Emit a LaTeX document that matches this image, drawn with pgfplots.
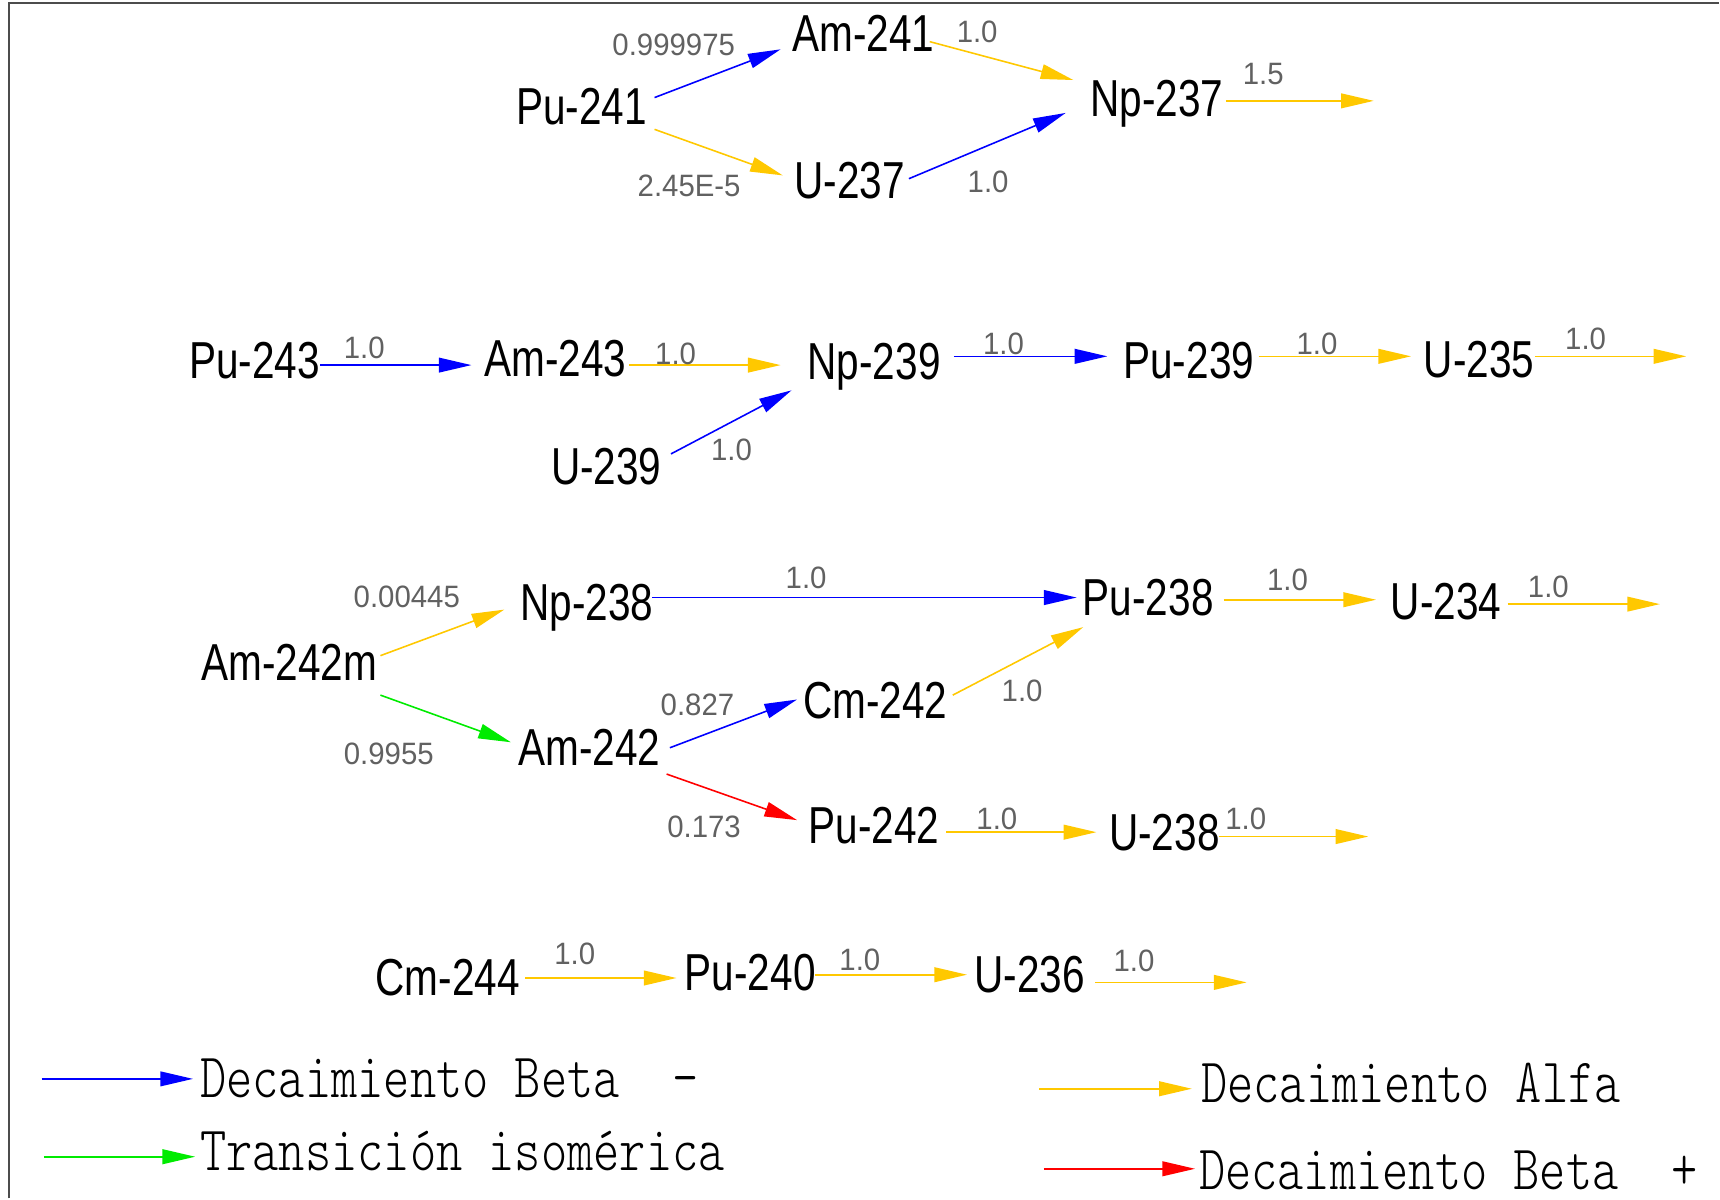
\documentclass[border=0pt]{standalone}
\usepackage{fontspec}
\usepackage{pgfplots}
\pgfplotsset{compat=1.18}
\usetikzlibrary{arrows.meta}
\newfontfamily\nucfont[FakeStretch=0.78]{Liberation Sans}
\newfontfamily\numfont[FakeStretch=0.95]{Liberation Sans}
\newfontfamily\legfont[Extension=.otf,FakeStretch=0.79]{lmmonolt10-regular}
\definecolor{alfa}{RGB}{255,200,0}
\definecolor{betam}{RGB}{0,0,255}
\definecolor{isom}{RGB}{0,235,0}
\definecolor{betap}{RGB}{255,0,0}
\tikzset{
  nuc/.style={anchor=base west,inner sep=0pt,font=\nucfont\fontsize{14.8pt}{16pt}\selectfont},
  num/.style={anchor=base west,inner sep=0pt,text=black!62,font=\numfont\fontsize{8.8pt}{10pt}\selectfont},
  leg/.style={anchor=base west,inner sep=0pt,font=\legfont\fontsize{18pt}{20pt}\selectfont},
}
\pgfplotsset{
  arr/.style={line width=0.45pt,-{Triangle[length=9.3pt,width=4.2pt]}},
}
\begin{document}
\begin{tikzpicture}
\begin{axis}[
  scale only axis, width=17.2cm, height=11.99cm,
  xmin=0, xmax=1568, ymin=0, ymax=1093, y dir=reverse,
  hide axis, clip=false,
]
\path (rel axis cs:0,0) rectangle (rel axis cs:1,1);
% frame
\addplot[black!70, line width=0.5pt] coordinates {(8.2,1093) (8.2,2.7) (1568,2.7)};

% ---- arrows: beta minus
\addplot[betam, arr] coordinates {(597,89) (712,45)};
\addplot[betam, arr] coordinates {(829,163) (972,103)};
\addplot[betam, arr] coordinates {(292,333) (430,333)};
\addplot[betam, arr] coordinates {(612,414) (722,356)};
\addplot[betam, arr] coordinates {(870,325) (1010,325)};
\addplot[betam, arr] coordinates {(595,545) (982,545)};
\addplot[betam, arr] coordinates {(611,682) (727,638)};
% ---- alpha
\addplot[alfa, arr] coordinates {(597,118) (714,160)};
\addplot[alfa, arr] coordinates {(848,38) (979,73)};
\addplot[alfa, arr] coordinates {(1118,92) (1253,92)};
\addplot[alfa, arr] coordinates {(574,333) (712,333)};
\addplot[alfa, arr] coordinates {(1148,325) (1287,325)};
\addplot[alfa, arr] coordinates {(1400,325) (1538,325)};
\addplot[alfa, arr] coordinates {(347,598) (460,556)};
\addplot[alfa, arr] coordinates {(1116,547) (1255,547)};
\addplot[alfa, arr] coordinates {(1375,551) (1514,551)};
\addplot[alfa, arr] coordinates {(869,634) (988,572)};
\addplot[alfa, arr] coordinates {(863,759) (1000,759)};
\addplot[alfa, arr] coordinates {(1112,763) (1248,763)};
\addplot[alfa, arr] coordinates {(479,892) (617,892)};
\addplot[alfa, arr] coordinates {(743,889) (882,889)};
\addplot[alfa, arr] coordinates {(999,896) (1137,896)};
% ---- isomeric
\addplot[isom, arr] coordinates {(347,634) (466,677)};
% ---- beta plus
\addplot[betap, arr] coordinates {(608,706) (727,748)};

% ---- legend arrows
\addplot[betam, arr] coordinates {(38,984) (176,984)};
\addplot[isom, arr] coordinates {(40,1055) (178,1055)};
\addplot[alfa, arr] coordinates {(948,993) (1087,993)};
\addplot[betap, arr] coordinates {(952,1066) (1090,1066)};

% ---- nuclides
\node[nuc] at (axis cs:470,114) {Pu-241};
\node[nuc] at (axis cs:722,47) {Am-241};
\node[nuc] at (axis cs:994,106) {Np-237};
\node[nuc] at (axis cs:724,181) {U-237};
\node[nuc] at (axis cs:172,345) {Pu-243};
\node[nuc] at (axis cs:441,343) {Am-243};
\node[nuc] at (axis cs:736,346) {Np-239};
\node[nuc] at (axis cs:502,442) {U-239};
\node[nuc] at (axis cs:1024,345) {Pu-239};
\node[nuc] at (axis cs:1298,344) {U-235};
\node[nuc] at (axis cs:183,621) {Am-242m};
\node[nuc] at (axis cs:474,566) {Np-238};
\node[nuc] at (axis cs:987,561) {Pu-238};
\node[nuc] at (axis cs:1268,565) {U-234};
\node[nuc] at (axis cs:732,655) {Cm-242};
\node[nuc] at (axis cs:472,698) {Am-242};
\node[nuc] at (axis cs:737,769) {Pu-242};
\node[nuc] at (axis cs:1011,776) {U-238};
\node[nuc] at (axis cs:342,908) {Cm-244};
\node[nuc] at (axis cs:624,903) {Pu-240};
\node[nuc] at (axis cs:888,905) {U-236};

% ---- branching ratios
\node[num] at (axis cs:558,51) {0.999975};
\node[num] at (axis cs:581,179) {2.45E-5};
\node[num] at (axis cs:872,39) {1.0};
\node[num] at (axis cs:1133,77) {1.5};
\node[num] at (axis cs:882,176) {1.0};
\node[num] at (axis cs:313,327) {1.0};
\node[num] at (axis cs:597,332) {1.0};
\node[num] at (axis cs:648,420) {1.0};
\node[num] at (axis cs:896,323) {1.0};
\node[num] at (axis cs:1182,323) {1.0};
\node[num] at (axis cs:1427,319) {1.0};
\node[num] at (axis cs:322,554) {0.00445};
\node[num] at (axis cs:716,537) {1.0};
\node[num] at (axis cs:1155,539) {1.0};
\node[num] at (axis cs:1393,545) {1.0};
\node[num] at (axis cs:913,640) {1.0};
\node[num] at (axis cs:602,653) {0.827};
\node[num] at (axis cs:313,697) {0.9955};
\node[num] at (axis cs:608,764) {0.173};
\node[num] at (axis cs:890,757) {1.0};
\node[num] at (axis cs:1117,757) {1.0};
\node[num] at (axis cs:505,880) {1.0};
\node[num] at (axis cs:765,885) {1.0};
\node[num] at (axis cs:1015,886) {1.0};

% ---- legend text
\node[leg] at (axis cs:182,1001) {Decaimiento Beta\ \ -};
\node[leg] at (axis cs:182,1068) {Transición isomérica};
\node[leg] at (axis cs:1095,1006) {Decaimiento Alfa};
\node[leg] at (axis cs:1093,1085) {Decaimiento Beta\ \ +};
\end{axis}
\end{tikzpicture}
\end{document}
